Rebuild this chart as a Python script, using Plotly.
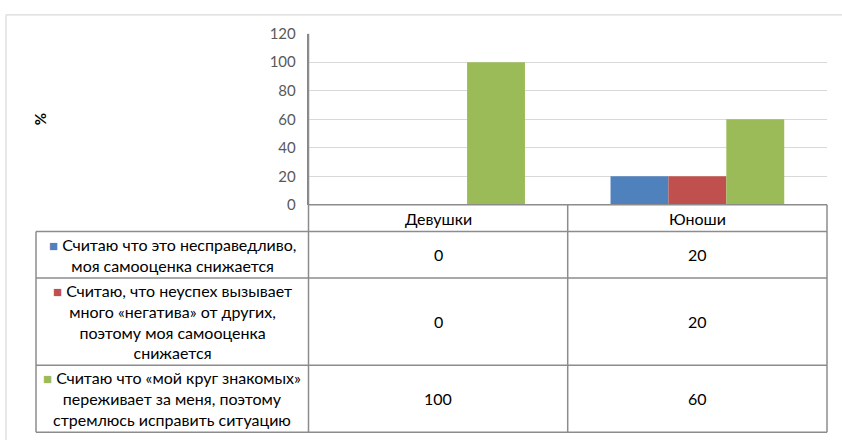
import plotly.graph_objects as go

# Data
categories = ["Девушки", "Юноши"]
series_names = [
    "Считаю что это несправедливо,\nмоя самооценка снижается",
    "Считаю, что неуспех вызывает\nмного «негатива» от других,\nпоэтому моя самооценка\nснижается",
    "Считаю что «мой круг знакомых»\nпереживает за меня, поэтому\nстремлюсь исправить ситуацию",
]
series_values = [
    [0, 20],
    [0, 20],
    [100, 60],
]
series_colors = ["#4F81BD", "#C0504D", "#9BBB59"]
y_ticks = [0, 20, 40, 60, 80, 100, 120]
y_title = "%"

W, H = 842, 448
FONT = "Lato, Carlito, Calibri, sans-serif"
LINE = "#8C8C8C"


def px(x):
    return x / W


def py(y):
    return 1 - y / H


# plot area and table geometry (pixels)
plot_l, plot_r, plot_t, plot_b = 308.5, 827.0, 24.7, 203.0
tab_l = 36.0
col_mid = 567.7
row_edges = [203.0, 230.7, 279.3, 370.0, 440.0]

fig = go.Figure()
for name, vals, col in zip(series_names, series_values, series_colors):
    fig.add_trace(go.Bar(
        x=categories, y=vals, name=name.replace("\n", " "),
        marker=dict(color=col, line=dict(width=0)),
        showlegend=False,
    ))

shapes = []


def hline(y, x0, x1, color=LINE, width=1.5):
    shapes.append(dict(type="line", xref="paper", yref="paper",
                       x0=px(x0), x1=px(x1), y0=py(y), y1=py(y),
                       line=dict(color=color, width=width)))


def vline(x, y0, y1, color=LINE, width=1.5):
    shapes.append(dict(type="line", xref="paper", yref="paper",
                       x0=px(x), x1=px(x), y0=py(y0), y1=py(y1),
                       line=dict(color=color, width=width)))


# outer chart frame
hline(5, 6, W, color="#D9D9D9", width=1.2)
vline(6, 5, H, color="#D9D9D9", width=1.2)

# data table grid
hline(row_edges[0], plot_l, plot_r)
for y in row_edges[1:]:
    hline(y, tab_l, plot_r)
vline(tab_l, row_edges[1], row_edges[-1])
vline(plot_l, plot_t, row_edges[-1])
vline(col_mid, row_edges[0], row_edges[-1])
vline(plot_r, row_edges[0], row_edges[-1])

annotations = []
col_centers = [(plot_l + col_mid) / 2, (col_mid + plot_r) / 2]

# header row with category names
for cx, cat in zip(col_centers, categories):
    annotations.append(dict(xref="paper", yref="paper", x=px(cx),
                            y=py((row_edges[0] + row_edges[1]) / 2),
                            text=cat, showarrow=False, xanchor="center",
                            yanchor="middle",
                            font=dict(family=FONT, size=16, color="#000000")))

# series rows: legend key + name, then values
for i, (name, vals, col) in enumerate(zip(series_names, series_values, series_colors)):
    ry = py((row_edges[i + 1] + row_edges[i + 2]) / 2)
    lines = name.split("\n")
    lines[0] = f'<span style="color:{col};font-size:15px">■</span> ' + lines[0]
    annotations.append(dict(xref="paper", yref="paper", x=px((tab_l + plot_l) / 2),
                            y=ry, text="<br>".join(lines), showarrow=False,
                            xanchor="center", yanchor="middle", align="center",
                            font=dict(family=FONT, size=16, color="#000000")))
    for cx, v in zip(col_centers, vals):
        annotations.append(dict(xref="paper", yref="paper", x=px(cx), y=ry,
                                text=str(v), showarrow=False, xanchor="center",
                                yanchor="middle",
                                font=dict(family=FONT, size=16, color="#000000")))

# value axis title
annotations.append(dict(xref="paper", yref="paper", x=px(40), y=py((plot_t + plot_b) / 2),
                        text=f"<b>{y_title}</b>", textangle=-90, showarrow=False,
                        xanchor="center", yanchor="middle",
                        font=dict(family=FONT, size=15, color="#000000")))

fig.update_layout(
    width=W, height=H,
    margin=dict(l=0, r=0, t=0, b=0),
    paper_bgcolor="white", plot_bgcolor="white",
    barmode="group", bargap=0.33, bargroupgap=0,
    shapes=shapes, annotations=annotations,
    xaxis=dict(domain=[px(plot_l), px(plot_r)], range=[-0.5, 1.5],
               showticklabels=False, showgrid=False, zeroline=False,
               showline=False, fixedrange=True),
    yaxis=dict(domain=[py(plot_b), py(plot_t)], range=[0, 120],
               tickvals=y_ticks, ticktext=[str(t) for t in y_ticks],
               showgrid=True, gridcolor="#D9D9D9", gridwidth=1,
               zeroline=False, showline=True, linecolor="#868686", linewidth=1.5,
               ticks="", ticklabelstandoff=8,
               tickfont=dict(family=FONT, size=15, color="#595959"),
               fixedrange=True),
    font=dict(family=FONT),
)

fig.write_html("out.html")
